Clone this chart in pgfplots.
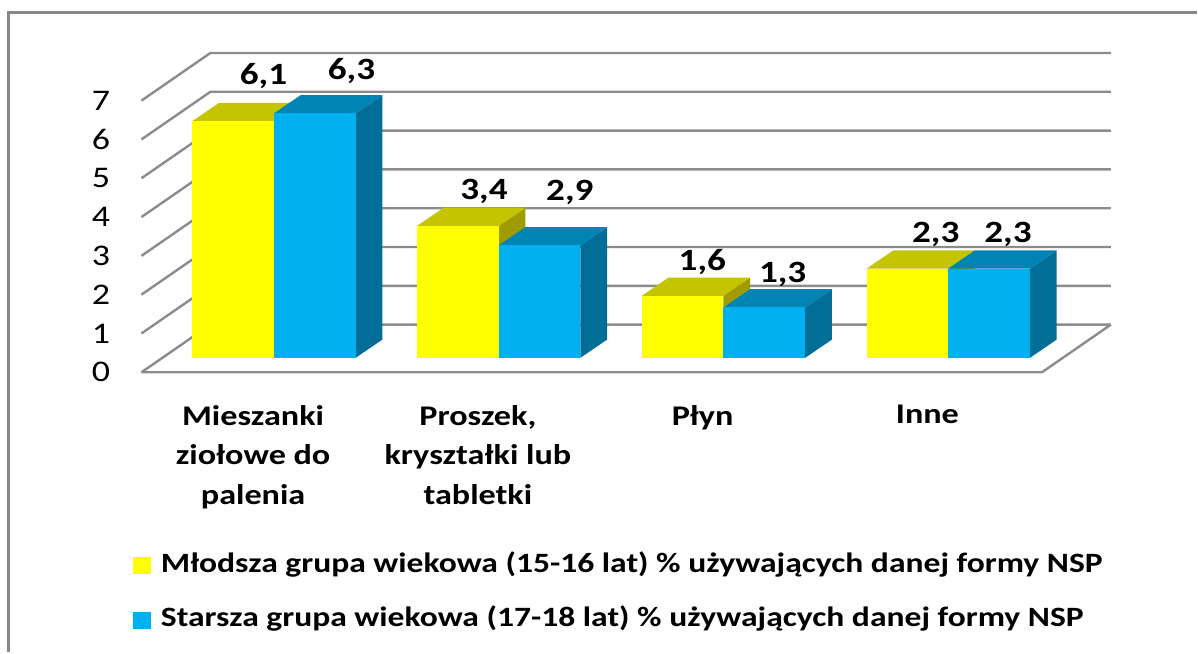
\documentclass[border=0pt]{standalone}
\usepackage{fontspec}
\setmainfont[FakeStretch=1.2]{Carlito}
\usepackage{pgfplots}
\usepackage{pgfplotstable}
\pgfplotsset{compat=1.18}

\definecolor{yF}{RGB}{255,255,0}
\definecolor{yT}{RGB}{196,196,0}
\definecolor{yS}{RGB}{160,156,0}
\definecolor{bF}{RGB}{0,176,240}
\definecolor{bT}{RGB}{0,132,180}
\definecolor{bS}{RGB}{0,110,150}
\definecolor{gridc}{RGB}{140,140,140}
\definecolor{framec}{RGB}{135,135,135}

% values: a = younger group (15-16), b = older group (17-18)
\pgfplotstableread{
x a b
0 6.1 6.3
1 3.4 2.9
2 1.6 1.3
3 2.3 2.3
}\bars

% value labels: bar front-centre x, value, label shift (pt)
\pgfplotstableread{
x v lx ly
-0.18155 6.1 15.2 22.65
0.18155 6.3 18.4 21.15
0.81845 3.4 13.05 17.15
1.18155 2.9 15.2 26.65
1.81845 1.6 9.85 17.15
2.18155 1.3 9.2 16.4
2.81845 2.3 14.2 16.95
3.18155 2.3 9.5 16.95
}\labels

\newcommand\cuboid[6]{%
  \pgfmathsetmacro\xA{#1}%
  \pgfmathsetmacro\xB{#2}%
  \pgfmathsetmacro\xC{#2+0.11911}%
  \pgfmathsetmacro\xD{#1+0.11911}%
  \pgfmathsetmacro\yV{#3}%
  \pgfmathsetmacro\yW{#3+0.47104}%
  \addplot[fill=#6,draw=none,forget plot] coordinates {(\xB,0) (\xC,0.47104) (\xC,\yW) (\xB,\yV)} -- cycle;
  \addplot[fill=#5,draw=none,forget plot] coordinates {(\xA,\yV) (\xD,\yW) (\xC,\yW) (\xB,\yV)} -- cycle;
  \addplot[fill=#4,draw=none,forget plot] coordinates {(\xA,0) (\xB,0) (\xB,\yV) (\xA,\yV)} -- cycle;
}

\tikzset{ticklab/.style={anchor=east, inner sep=0pt, font=\fontsize{15}{18}\selectfont},
  catlab/.style={anchor=north, align=center, inner sep=0pt, font=\fontsize{14.25}{19.75}\selectfont\bfseries},
  leglab/.style={anchor=base west, inner sep=0pt, font=\fontsize{14}{16}\selectfont\bfseries}}

\begin{document}
\begin{tikzpicture}
\begin{axis}[
  width=599pt, height=326.5pt, scale only axis,
  xmin=-1.21867, xmax=4.10578, ymin=-7.58559, ymax=9.22265,
  axis lines=none, clip=false,
  axis background/.style={fill=white},
  /pgf/number format/.cd, use comma, fixed, precision=1, fixed zerofill, assume math mode=true,
]
% frame
\draw[framec, line width=1.25pt] (axis cs:-1.18133,-7.58559) -- (axis cs:-1.18133,8.8958) -- (axis cs:4.10578,8.8958);

% grid: side wall diagonals + back wall lines
\pgfplotsinvokeforeach{0,...,7}{
  \pgfmathsetmacro\gA{#1-0.3707}
  \pgfmathsetmacro\gB{#1+0.857}
  \addplot[gridc, line width=1.2pt, forget plot] coordinates {(-0.5893,\gA) (-0.28263,\gB) (3.7236,\gB)};
}
% floor front and right edge
\addplot[gridc, line width=1.2pt, forget plot] coordinates {(-0.5893,-0.3707) (3.41693,-0.3707) (3.7236,0.857)};

% bars
\pgfplotsinvokeforeach{0,...,3}{
  \pgfplotstablegetelem{#1}{a}\of\bars \let\va\pgfplotsretval
  \pgfplotstablegetelem{#1}{b}\of\bars \let\vb\pgfplotsretval
  \cuboid{#1-0.3631}{#1}{\va}{yF}{yT}{yS}
  \cuboid{#1}{#1+0.3631}{\vb}{bF}{bT}{bS}
}

% value labels
\addplot[draw=none, mark=none, forget plot,
  point meta=y,
  visualization depends on={\thisrow{lx} \as \lx},
  visualization depends on={\thisrow{ly} \as \ly},
  nodes near coords,
  every node near coord/.style={anchor=center, xshift=\lx pt, yshift=\ly pt, font=\fontsize{15.5}{18}\selectfont\bfseries, text=black, inner sep=0pt},
] table[x=x, y=v] {\labels};

% tick labels
\node[ticklab] at (axis cs:-0.727,-0.3707) {0};
\node[ticklab] at (axis cs:-0.727,0.6293) {1};
\node[ticklab] at (axis cs:-0.727,1.6293) {2};
\node[ticklab] at (axis cs:-0.727,2.6293) {3};
\node[ticklab] at (axis cs:-0.727,3.6293) {4};
\node[ticklab] at (axis cs:-0.727,4.6293) {5};
\node[ticklab] at (axis cs:-0.727,5.6293) {6};
\node[ticklab] at (axis cs:-0.727,6.6293) {7};

% category labels
\node[catlab] at (axis cs:-0.0926,-1.2098) {Mieszanki\\ziołowe do\\palenia};
\node[catlab] at (axis cs:0.9074,-1.2098) {Proszek,\\kryształki lub\\tabletki};
\node[catlab] at (axis cs:1.9074,-1.2098) {Płyn};
\node[catlab] at (axis cs:2.9074,-1.2098) {Inne};

% legend
\node[fill=yF, minimum width=9pt, minimum height=8.5pt, inner sep=0pt] at (axis cs:-0.5889,-5.3411) {};
\node[fill=bF, minimum width=9pt, minimum height=8.5pt, inner sep=0pt] at (axis cs:-0.5889,-6.7696) {};
\node[leglab] at (axis cs:-0.50444,-5.5341) {Młodsza grupa wiekowa (15-16 lat) \% używających danej formy NSP};
\node[leglab] at (axis cs:-0.50444,-6.9241) {Starsza grupa wiekowa (17-18 lat) \% używających danej formy NSP};
\end{axis}
\end{tikzpicture}
\end{document}
